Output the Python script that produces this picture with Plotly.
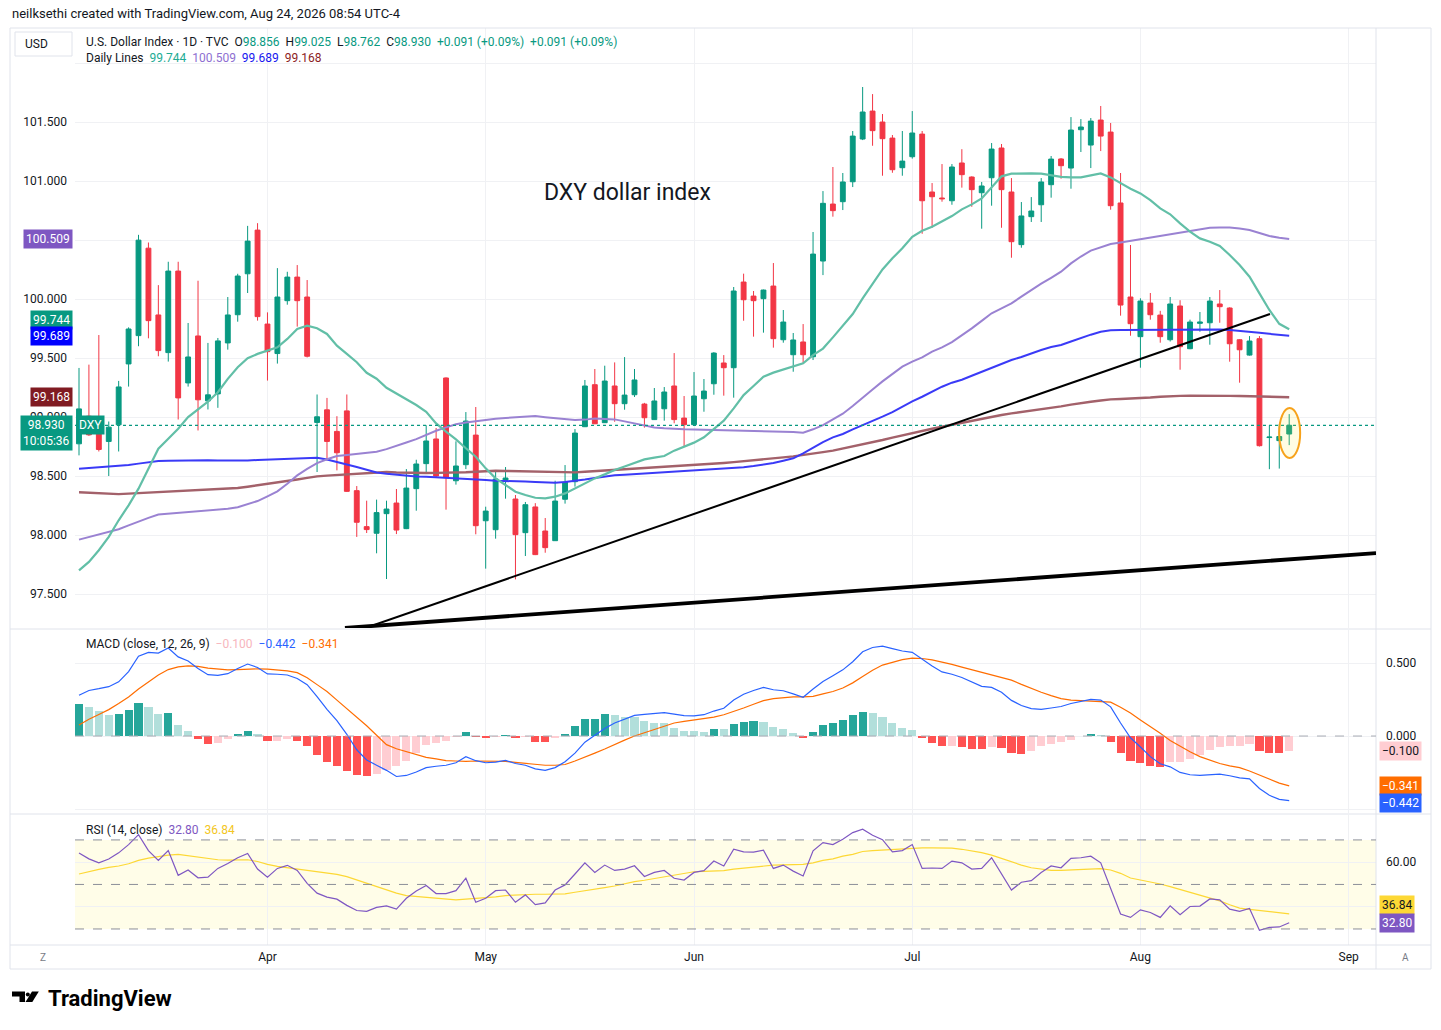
"""DXY daily chart in the TradingView look: candles + daily moving averages,
MACD and RSI panes underneath.
"""
import pandas as pd
import plotly.graph_objects as go

_INK = "#131722"
_MUTED = "#787b86"
_GRID = "#f0f1f4"
_BORDER = "#e0e3eb"
_UP = "#089981"
_DOWN = "#f23645"
_MA20 = "#62bfa7"
_MA50 = "#9a82d2"
_MA100 = "#3a3af7"
_MA200 = "#a3616a"
_MACD = "#2962ff"
_SIGNAL = "#ff6d00"
_RSI = "#7e57c2"
_RSI_MA = "#fdd835"
_FONT = "Roboto, Arial, sans-serif"

W, H = 1441, 1030

# ---- data ----------------------------------------------------------------
FIRST_DAY = "2026-03-05"
LAST_DAY = "2026-08-24"

OPEN = [
    98.773, 99.007, 98.914, 98.793, 98.934, 99.450, 99.690, 100.431, 99.865, 99.546,
    100.237, 99.289, 99.687, 99.137, 99.196, 99.628, 99.867, 100.214, 100.584, 99.788,
    99.538, 99.986, 100.186, 100.017, 98.954, 99.061, 98.878, 99.052, 98.376, 98.071,
    98.015, 98.181, 98.271, 98.054, 98.393, 98.605, 98.814, 99.331, 98.460, 98.596,
    98.847, 98.121, 98.045, 98.460, 98.305, 98.020, 98.238, 98.034, 97.952, 98.303,
    98.452, 98.918, 99.274, 98.952, 99.263, 99.113, 99.189, 99.110, 98.978, 99.070,
    99.263, 98.991, 98.935, 99.155, 99.282, 99.458, 99.418, 100.144, 100.025, 100.003,
    100.110, 99.655, 99.528, 99.636, 99.511, 100.322, 100.805, 100.825, 100.994, 101.356,
    101.593, 101.500, 101.364, 101.113, 101.206, 101.398, 100.907, 100.856, 100.833, 101.153,
    101.034, 100.901, 101.028, 101.280, 100.907, 100.461, 100.698, 100.799, 100.969, 101.187,
    101.110, 101.435, 101.305, 101.517, 101.415, 100.814, 100.017, 99.681, 99.966, 99.864,
    99.655, 99.941, 99.579, 99.794, 99.799, 99.958, 99.924, 99.655, 99.525, 99.664,
    98.826, 98.800, 98.856,
]
HIGH = [
    99.416, 99.444, 99.695, 98.962, 99.306, 99.760, 100.544, 100.479, 100.118, 100.316,
    100.316, 99.797, 100.155, 99.628, 99.670, 100.017, 100.214, 100.620, 100.643, 99.887,
    100.262, 100.231, 100.288, 100.161, 99.191, 99.162, 99.007, 99.191, 98.415, 98.291,
    98.300, 98.291, 98.390, 98.559, 98.638, 98.930, 98.907, 99.336, 98.794, 99.042,
    99.085, 98.240, 98.534, 98.576, 98.339, 98.280, 98.270, 98.144, 98.460, 98.593,
    98.898, 99.314, 99.407, 99.435, 99.463, 99.508, 99.407, 99.120, 99.246, 99.254,
    99.542, 99.178, 99.381, 99.322, 99.550, 99.525, 100.102, 100.215, 100.068, 100.080,
    100.305, 99.907, 99.712, 99.788, 100.568, 100.915, 101.119, 101.068, 101.424, 101.797,
    101.737, 101.568, 101.390, 101.424, 101.593, 101.424, 100.983, 101.144, 101.144, 101.270,
    101.040, 100.992, 101.322, 101.314, 101.025, 100.822, 100.864, 101.025, 101.212, 101.195,
    101.542, 101.525, 101.534, 101.636, 101.492, 101.068, 100.458, 100.006, 100.051, 99.900,
    100.017, 99.990, 99.825, 99.890, 100.017, 100.076, 99.930, 99.660, 99.686, 99.686,
    98.930, 98.940, 99.025,
]
LOW = [
    98.675, 98.840, 98.708, 98.500, 98.708, 99.258, 99.600, 99.667, 99.515, 99.470,
    98.979, 99.258, 98.886, 99.064, 99.078, 99.571, 99.808, 100.051, 99.817, 99.309,
    99.453, 99.952, 99.766, 99.505, 98.534, 98.632, 98.548, 98.365, 97.984, 98.017,
    97.845, 97.627, 98.008, 98.050, 98.206, 98.523, 98.486, 98.215, 98.427, 98.559,
    98.006, 97.715, 97.969, 98.308, 97.624, 97.822, 97.830, 97.850, 97.950, 98.266,
    98.410, 98.915, 98.940, 98.950, 98.960, 99.062, 99.170, 98.910, 98.975, 98.969,
    98.947, 98.749, 98.933, 99.045, 99.189, 99.181, 99.164, 99.816, 99.681, 99.715,
    99.588, 99.630, 99.384, 99.455, 99.483, 100.203, 100.698, 100.754, 100.949, 101.347,
    101.299, 101.045, 101.070, 101.045, 101.190, 100.553, 100.604, 100.825, 100.799, 100.944,
    100.782, 100.596, 100.791, 100.604, 100.350, 100.435, 100.653, 100.653, 100.859, 101.020,
    100.935, 101.246, 101.110, 101.254, 100.757, 99.859, 99.689, 99.418, 99.825, 99.630,
    99.640, 99.401, 99.575, 99.723, 99.613, 99.799, 99.469, 99.291, 99.520, 98.750,
    98.558, 98.563, 98.762,
]
CLOSE = [
    99.069, 98.849, 98.725, 98.914, 99.255, 99.746, 100.499, 99.817, 99.563, 100.237,
    99.162, 99.509, 99.146, 99.188, 99.645, 99.865, 100.195, 100.491, 99.851, 99.554,
    100.017, 100.186, 99.986, 99.515, 99.002, 98.793, 98.697, 98.370, 98.108, 98.046,
    98.190, 98.220, 98.042, 98.398, 98.602, 98.797, 98.500, 98.486, 98.585, 98.966,
    98.079, 98.203, 98.475, 98.483, 98.003, 98.257, 97.834, 97.893, 98.288, 98.449,
    98.864, 99.263, 98.943, 99.305, 99.113, 99.186, 99.314, 98.994, 99.136, 99.212,
    98.978, 98.935, 99.178, 99.220, 99.542, 99.418, 100.068, 99.994, 99.986, 100.076,
    99.664, 99.805, 99.653, 99.528, 100.381, 100.811, 100.749, 100.992, 101.381, 101.585,
    101.427, 101.359, 101.096, 101.169, 101.407, 100.833, 100.867, 100.850, 101.119, 101.054,
    100.927, 100.958, 101.271, 100.927, 100.486, 100.704, 100.746, 100.992, 101.186, 101.130,
    101.432, 101.458, 101.508, 101.381, 100.791, 99.949, 99.791, 99.983, 99.867, 99.681,
    99.958, 99.596, 99.805, 99.805, 99.983, 99.935, 99.621, 99.570, 99.644, 98.757,
    98.830, 98.835, 98.930,
]

# "Daily Lines" moving averages
MA20 = [
    97.700, 97.772, 97.871, 97.984, 98.125, 98.252, 98.393, 98.562, 98.731, 98.816,
    98.900, 98.999, 99.069, 99.131, 99.210, 99.323, 99.422, 99.498, 99.535, 99.563,
    99.591, 99.662, 99.746, 99.774, 99.752, 99.704, 99.605, 99.535, 99.464, 99.375,
    99.325, 99.248, 99.200, 99.150, 99.102, 99.045, 98.946, 98.876, 98.811, 98.735,
    98.664, 98.565, 98.480, 98.424, 98.367, 98.339, 98.316, 98.311, 98.325, 98.353,
    98.396, 98.438, 98.480, 98.514, 98.551, 98.580, 98.610, 98.641, 98.656, 98.670,
    98.715, 98.749, 98.783, 98.828, 98.899, 98.969, 99.073, 99.186, 99.263, 99.342,
    99.376, 99.404, 99.432, 99.455, 99.525, 99.580, 99.675, 99.771, 99.873, 100.006,
    100.133, 100.251, 100.345, 100.430, 100.528, 100.579, 100.613, 100.655, 100.703, 100.760,
    100.802, 100.853, 100.946, 101.040, 101.062, 101.065, 101.065, 101.062, 101.051, 101.035,
    101.031, 101.031, 101.048, 101.065, 101.031, 100.980, 100.935, 100.895, 100.839, 100.768,
    100.718, 100.641, 100.571, 100.514, 100.486, 100.449, 100.373, 100.288, 100.189, 100.048,
    99.907, 99.790, 99.744,
]
MA50 = [
    97.961, 97.982, 98.003, 98.026, 98.049, 98.082, 98.116, 98.145, 98.173, 98.180,
    98.187, 98.193, 98.198, 98.204, 98.209, 98.222, 98.235, 98.260, 98.288, 98.328,
    98.370, 98.435, 98.505, 98.560, 98.610, 98.642, 98.669, 98.678, 98.686, 98.697,
    98.706, 98.728, 98.754, 98.784, 98.813, 98.850, 98.884, 98.912, 98.938, 98.953,
    98.966, 98.977, 98.986, 98.992, 98.997, 99.003, 99.008, 98.999, 98.989, 98.982,
    98.975, 98.978, 98.988, 98.984, 98.980, 98.963, 98.946, 98.929, 98.912, 98.905,
    98.898, 98.897, 98.895, 98.893, 98.890, 98.886, 98.881, 98.881, 98.881, 98.880,
    98.878, 98.875, 98.873, 98.867, 98.896, 98.932, 98.980, 99.028, 99.093, 99.167,
    99.234, 99.302, 99.362, 99.427, 99.469, 99.506, 99.555, 99.590, 99.635, 99.690,
    99.751, 99.815, 99.879, 99.920, 99.963, 100.020, 100.076, 100.130, 100.180, 100.232,
    100.302, 100.360, 100.410, 100.440, 100.466, 100.480, 100.494, 100.510, 100.525, 100.538,
    100.551, 100.565, 100.579, 100.592, 100.605, 100.607, 100.607, 100.597, 100.585, 100.560,
    100.534, 100.520, 100.509,
]
MA100 = [
    98.562, 98.567, 98.572, 98.577, 98.582, 98.593, 98.605, 98.616, 98.627, 98.629,
    98.631, 98.633, 98.635, 98.633, 98.631, 98.629, 98.627, 98.631, 98.636, 98.640,
    98.644, 98.647, 98.650, 98.653, 98.655, 98.640, 98.621, 98.598, 98.576, 98.555,
    98.530, 98.520, 98.511, 98.504, 98.497, 98.493, 98.489, 98.486, 98.483, 98.478,
    98.472, 98.466, 98.460, 98.459, 98.458, 98.453, 98.449, 98.446, 98.443, 98.450,
    98.458, 98.470, 98.483, 98.495, 98.506, 98.510, 98.515, 98.520, 98.525, 98.530,
    98.535, 98.540, 98.545, 98.550, 98.555, 98.560, 98.566, 98.575, 98.585, 98.596,
    98.610, 98.630, 98.650, 98.692, 98.743, 98.788, 98.828, 98.856, 98.895, 98.929,
    98.966, 99.003, 99.042, 99.088, 99.133, 99.172, 99.215, 99.257, 99.291, 99.316,
    99.350, 99.384, 99.418, 99.455, 99.483, 99.509, 99.540, 99.568, 99.593, 99.610,
    99.640, 99.670, 99.698, 99.723, 99.735, 99.737, 99.738, 99.738, 99.739, 99.740,
    99.741, 99.742, 99.743, 99.744, 99.743, 99.741, 99.737, 99.731, 99.722, 99.714,
    99.705, 99.696, 99.689,
]
MA200 = [
    98.362, 98.358, 98.354, 98.350, 98.347, 98.351, 98.355, 98.358, 98.362, 98.365,
    98.369, 98.372, 98.376, 98.381, 98.387, 98.392, 98.398, 98.409, 98.420, 98.431,
    98.443, 98.456, 98.470, 98.484, 98.497, 98.503, 98.508, 98.514, 98.519, 98.524,
    98.529, 98.534, 98.530, 98.527, 98.525, 98.526, 98.527, 98.527, 98.528, 98.532,
    98.536, 98.541, 98.545, 98.543, 98.541, 98.539, 98.537, 98.536, 98.534, 98.533,
    98.531, 98.536, 98.541, 98.546, 98.551, 98.555, 98.560, 98.565, 98.570, 98.575,
    98.580, 98.585, 98.590, 98.597, 98.604, 98.611, 98.618, 98.625, 98.633, 98.641,
    98.650, 98.658, 98.667, 98.681, 98.692, 98.703, 98.715, 98.732, 98.749, 98.771,
    98.788, 98.805, 98.825, 98.845, 98.864, 98.881, 98.901, 98.918, 98.935, 98.955,
    98.972, 98.989, 99.003, 99.017, 99.031, 99.042, 99.054, 99.065, 99.075, 99.090,
    99.105, 99.120, 99.130, 99.140, 99.150, 99.153, 99.156, 99.158, 99.165, 99.172,
    99.177, 99.179, 99.180, 99.181, 99.181, 99.180, 99.179, 99.178, 99.176, 99.174,
    99.172, 99.170, 99.168,
]

# MACD (close, 12, 26, 9)
MACD_LINE = [
    0.279, 0.312, 0.324, 0.338, 0.371, 0.441, 0.547, 0.573, 0.568, 0.603,
    0.542, 0.514, 0.462, 0.420, 0.415, 0.427, 0.462, 0.493, 0.469, 0.425,
    0.423, 0.418, 0.394, 0.352, 0.270, 0.183, 0.106, 0.012, -0.094, -0.164,
    -0.200, -0.235, -0.277, -0.270, -0.246, -0.216, -0.207, -0.200, -0.183, -0.141,
    -0.169, -0.183, -0.178, -0.167, -0.188, -0.200, -0.225, -0.235, -0.216, -0.176,
    -0.117, -0.042, 0.005, 0.052, 0.089, 0.117, 0.141, 0.148, 0.153, 0.160,
    0.150, 0.140, 0.138, 0.146, 0.171, 0.190, 0.246, 0.286, 0.312, 0.333,
    0.317, 0.310, 0.289, 0.265, 0.322, 0.373, 0.413, 0.453, 0.509, 0.577,
    0.606, 0.615, 0.599, 0.582, 0.573, 0.526, 0.479, 0.439, 0.423, 0.401,
    0.373, 0.340, 0.333, 0.300, 0.244, 0.209, 0.188, 0.183, 0.192, 0.202,
    0.223, 0.239, 0.251, 0.246, 0.200, 0.089, -0.012, -0.075, -0.141, -0.190,
    -0.211, -0.249, -0.265, -0.270, -0.263, -0.261, -0.272, -0.286, -0.293, -0.359,
    -0.406, -0.434, -0.442,
]
MACD_SIGNAL = [
    0.075, 0.115, 0.148, 0.181, 0.223, 0.268, 0.322, 0.373, 0.418, 0.455,
    0.474, 0.481, 0.477, 0.465, 0.460, 0.453, 0.455, 0.460, 0.460, 0.458,
    0.453, 0.446, 0.434, 0.399, 0.352, 0.305, 0.246, 0.188, 0.129, 0.070,
    0.005, -0.059, -0.087, -0.108, -0.129, -0.146, -0.157, -0.169, -0.171, -0.174,
    -0.171, -0.171, -0.171, -0.174, -0.181, -0.188, -0.195, -0.200, -0.200, -0.195,
    -0.171, -0.146, -0.117, -0.089, -0.056, -0.028, 0.000, 0.023, 0.047, 0.070,
    0.089, 0.100, 0.110, 0.117, 0.129, 0.146, 0.167, 0.192, 0.218, 0.242,
    0.256, 0.263, 0.268, 0.268, 0.272, 0.289, 0.305, 0.329, 0.364, 0.408,
    0.451, 0.486, 0.507, 0.523, 0.533, 0.531, 0.521, 0.507, 0.491, 0.472,
    0.455, 0.439, 0.420, 0.404, 0.383, 0.354, 0.326, 0.300, 0.277, 0.256,
    0.246, 0.242, 0.239, 0.239, 0.232, 0.197, 0.157, 0.110, 0.066, 0.019,
    -0.031, -0.070, -0.108, -0.141, -0.167, -0.188, -0.204, -0.216, -0.239, -0.268,
    -0.298, -0.322, -0.341,
]
MACD_HIST = [
    0.218, 0.200, 0.169, 0.145, 0.150, 0.176, 0.225, 0.200, 0.152, 0.157,
    0.077, 0.035, -0.019, -0.054, -0.047, -0.023, 0.012, 0.035, 0.016, -0.035,
    -0.031, -0.019, -0.033, -0.070, -0.129, -0.176, -0.204, -0.239, -0.265, -0.272,
    -0.258, -0.235, -0.207, -0.169, -0.117, -0.063, -0.047, -0.035, -0.009, 0.028,
    -0.009, -0.016, -0.005, 0.009, -0.016, -0.009, -0.040, -0.042, -0.016, 0.014,
    0.066, 0.115, 0.120, 0.148, 0.141, 0.131, 0.128, 0.106, 0.092, 0.088,
    0.056, 0.035, 0.034, 0.028, 0.050, 0.049, 0.085, 0.099, 0.100, 0.098,
    0.063, 0.049, 0.021, -0.012, 0.028, 0.077, 0.092, 0.113, 0.141, 0.162,
    0.155, 0.127, 0.092, 0.056, 0.042, -0.014, -0.047, -0.068, -0.066, -0.075,
    -0.087, -0.090, -0.075, -0.082, -0.117, -0.124, -0.103, -0.070, -0.055, -0.040,
    -0.025, -0.003, 0.014, 0.007, -0.042, -0.117, -0.174, -0.188, -0.202, -0.209,
    -0.181, -0.180, -0.160, -0.131, -0.096, -0.075, -0.068, -0.066, -0.054, -0.103,
    -0.117, -0.118, -0.100,
]

# RSI (14, close) and its moving average
RSI = [
    64.1, 61.5, 59.7, 61.4, 64.2, 67.9, 72.4, 65.2, 60.8, 65.2,
    54.1, 56.5, 53.0, 53.3, 57.2, 59.4, 62.0, 63.9, 56.9, 53.3,
    57.2, 58.6, 56.3, 50.5, 46.1, 44.3, 43.4, 40.6, 38.3, 37.9,
    39.7, 40.4, 38.9, 43.8, 47.1, 49.5, 45.9, 45.9, 47.2, 52.8,
    42.0, 43.8, 47.2, 47.5, 42.0, 45.3, 40.9, 41.7, 47.5, 49.8,
    54.7, 59.7, 55.4, 58.7, 56.3, 56.9, 58.4, 53.6, 55.4, 56.3,
    52.8, 52.0, 55.4, 56.2, 60.5, 58.3, 65.8, 64.6, 64.5, 65.4,
    57.2, 58.7, 56.0, 53.8, 65.1, 68.8, 67.9, 70.3, 73.3, 74.8,
    72.1, 70.1, 64.6, 65.2, 67.9, 57.2, 57.4, 57.2, 60.5, 59.7,
    56.9, 57.2, 62.0, 55.0, 47.5, 51.0, 51.7, 55.4, 58.3, 57.5,
    61.7, 62.0, 62.7, 59.7, 48.3, 36.7, 35.2, 38.6, 37.4, 35.2,
    40.4, 36.4, 40.1, 40.3, 43.5, 43.1, 38.9, 37.9, 39.2, 29.4,
    30.7, 30.9, 32.8,
]
RSI_MA = [
    54.7, 55.9, 56.8, 57.7, 58.3, 59.3, 60.8, 61.8, 62.6, 63.2,
    63.5, 62.9, 62.3, 61.5, 61.1, 60.9, 61.1, 61.1, 60.3, 59.0,
    58.1, 57.5, 57.1, 56.5, 56.0, 55.3, 54.5, 53.5, 52.0, 50.5,
    49.0, 47.5, 46.1, 45.0, 44.6, 44.1, 43.7, 43.4, 43.1, 43.4,
    43.7, 43.8, 44.4, 45.0, 45.3, 45.6, 45.6, 45.6, 45.6, 45.8,
    46.5, 47.1, 47.8, 48.6, 49.3, 50.4, 51.3, 51.9, 52.6, 53.3,
    54.2, 54.8, 55.7, 55.9, 56.0, 56.2, 56.9, 57.4, 57.8, 58.4,
    58.7, 58.8, 58.8, 59.0, 59.7, 60.8, 61.5, 62.7, 63.5, 64.8,
    65.2, 65.5, 65.7, 66.0, 66.3, 66.4, 66.4, 66.4, 66.3, 65.8,
    65.2, 64.3, 63.2, 61.7, 60.0, 58.7, 57.5, 56.8, 56.3, 56.3,
    56.5, 56.8, 57.1, 57.1, 56.5, 55.0, 52.9, 52.1, 51.3, 50.2,
    49.0, 47.7, 46.5, 45.2, 43.8, 42.6, 40.9, 39.4, 38.8, 38.3,
    38.0, 37.6, 36.8,
]

MONTH_TICKS = ["2026-04-01", "2026-05-01", "2026-06-01", "2026-07-01", "2026-08-03", "2026-09-01"]
MONTH_LABELS = ["Apr", "May", "Jun", "Jul", "Aug", "Sep"]
PRICE_TICKS = [97.5, 98.0, 98.5, 99.0, 99.5, 100.0, 100.5, 101.0, 101.5, 102.0]

# hand-drawn trend lines: (start date, start price, end date, end price)
TREND_THIN = ("2026-04-15 09:00", 97.212, "2026-08-20 13:30", 99.873)
TREND_THICK = ("2026-04-13 07:30", 97.212, "2026-09-04 06:00", 97.847)
HIGHLIGHT = ("2026-08-21 11:40", 98.653, "2026-08-25 14:30", 99.076)

# ---- helpers ----------------------------------------------------------------
# daily bars sit at noon so boxes never straddle the weekend break
dates = pd.bdate_range(FIRST_DAY, LAST_DAY) + pd.Timedelta(hours=12)
noon = lambda d: f"{d} 12:00"
X_RANGE = ["2026-03-05 02:20", "2026-09-04 06:00"]
DAY_MS = 86_400_000


def px(x):
    return x / W


def py(y):
    return 1 - y / H


def hist_colours(values):
    out = []
    for i, v in enumerate(values):
        rising = i == 0 or v > values[i - 1]
        if v >= 0:
            out.append("#26a69a" if rising else "#b2dfdb")
        else:
            out.append("#ffcdd2" if rising else "#ff5252")
    return out


X_DOMAIN = [px(75), px(1376)]
PRICE_DOMAIN = [py(628), py(28)]
MACD_DOMAIN = [py(813), py(630)]
RSI_DOMAIN = [py(945), py(815)]

fig = go.Figure()

# price pane
fig.add_trace(
    go.Candlestick(
        x=dates, open=OPEN, high=HIGH, low=LOW, close=CLOSE,
        increasing={"line": {"color": _UP, "width": 1}, "fillcolor": _UP},
        decreasing={"line": {"color": _DOWN, "width": 1}, "fillcolor": _DOWN},
        whiskerwidth=0, xaxis="x", yaxis="y", hoverinfo="skip",
    )
)
for values, colour, width in ((MA200, _MA200, 2.4), (MA100, _MA100, 2),
                              (MA50, _MA50, 2), (MA20, _MA20, 2.2)):
    fig.add_trace(go.Scatter(x=dates, y=values, mode="lines", xaxis="x", yaxis="y",
                             line={"color": colour, "width": width}, hoverinfo="skip"))

# MACD pane
fig.add_trace(go.Bar(x=dates, y=MACD_HIST, width=0.82 * DAY_MS, xaxis="x2", yaxis="y2",
                     marker={"color": hist_colours(MACD_HIST), "line": {"width": 0}},
                     hoverinfo="skip"))
fig.add_trace(go.Scatter(x=dates, y=MACD_SIGNAL, mode="lines", xaxis="x2", yaxis="y2",
                         line={"color": _SIGNAL, "width": 1.2}, hoverinfo="skip"))
fig.add_trace(go.Scatter(x=dates, y=MACD_LINE, mode="lines", xaxis="x2", yaxis="y2",
                         line={"color": _MACD, "width": 1.2}, hoverinfo="skip"))

# RSI pane
fig.add_trace(go.Scatter(x=dates, y=RSI_MA, mode="lines", xaxis="x3", yaxis="y3",
                         line={"color": _RSI_MA, "width": 1.2}, hoverinfo="skip"))
fig.add_trace(go.Scatter(x=dates, y=RSI, mode="lines", xaxis="x3", yaxis="y3",
                         line={"color": _RSI, "width": 1.2}, hoverinfo="skip"))

shapes = [
    # chart frame, pane separators, axis borders
    dict(type="rect", xref="paper", yref="paper", x0=px(10), x1=px(1431), y0=py(969), y1=py(28),
         line={"color": _BORDER, "width": 1}),
    dict(type="line", xref="paper", yref="paper", x0=px(10), x1=px(1431), y0=py(629), y1=py(629),
         line={"color": _BORDER, "width": 1}),
    dict(type="line", xref="paper", yref="paper", x0=px(10), x1=px(1431), y0=py(814), y1=py(814),
         line={"color": _BORDER, "width": 1}),
    dict(type="line", xref="paper", yref="paper", x0=px(10), x1=px(1431), y0=py(945), y1=py(945),
         line={"color": _BORDER, "width": 1}),
    dict(type="line", xref="paper", yref="paper", x0=px(1376), x1=px(1376), y0=py(969), y1=py(28),
         line={"color": _BORDER, "width": 1}),
    # USD box
    dict(type="rect", xref="paper", yref="paper", x0=px(15), x1=px(72), y0=py(56), y1=py(32),
         line={"color": _BORDER, "width": 1}, fillcolor="white"),
    # RSI band and levels
    dict(type="rect", xref="x3 domain", yref="y3", x0=0, x1=1, y0=30, y1=70,
         fillcolor="#fffde8", line={"width": 0}, layer="below"),
    # current price line
    dict(type="line", xref="x domain", yref="y", x0=0, x1=1, y0=CLOSE[-1], y1=CLOSE[-1],
         line={"color": _UP, "width": 1.3, "dash": "dot"}),
    # MACD zero line
    dict(type="line", xref="x2 domain", yref="y2", x0=0, x1=1, y0=0, y1=0,
         line={"color": "#a9acb4", "width": 1, "dash": "dash"}),
    # trend lines
    dict(type="line", xref="x", yref="y", x0=TREND_THIN[0], y0=TREND_THIN[1],
         x1=TREND_THIN[2], y1=TREND_THIN[3], line={"color": "black", "width": 2}),
    dict(type="line", xref="x", yref="y", x0=TREND_THICK[0], y0=TREND_THICK[1],
         x1=TREND_THICK[2], y1=TREND_THICK[3], line={"color": "black", "width": 3.8}),
    # circled last candles
    dict(type="circle", xref="x", yref="y", x0=HIGHLIGHT[0], y0=HIGHLIGHT[1],
         x1=HIGHLIGHT[2], y1=HIGHLIGHT[3], fillcolor="rgba(255,235,59,0.15)",
         line={"color": "#f7a21b", "width": 2}),
    # TradingView mark
    dict(type="path", xref="paper", yref="paper",
         path=f"M{px(12)},{py(991.5)} L{px(25)},{py(991.5)} L{px(25)},{py(1002)} "
              f"L{px(19.5)},{py(1002)} L{px(19.5)},{py(996.5)} L{px(12)},{py(996.5)} Z",
         fillcolor="black", line={"width": 0}),
    dict(type="circle", xref="paper", yref="paper", x0=px(25.8), x1=px(29.8), y0=py(996.4),
         y1=py(992.4), fillcolor="black", line={"width": 0}),
    dict(type="path", xref="paper", yref="paper",
         path=f"M{px(32)},{py(991.5)} L{px(38.8)},{py(991.5)} L{px(32.3)},{py(1002)} "
              f"L{px(25.5)},{py(1002)} Z",
         fillcolor="black", line={"width": 0}),
]
for level in (70, 50, 30):
    shapes.append(dict(type="line", xref="x3 domain", yref="y3", x0=0, x1=1, y0=level, y1=level,
                       line={"color": "#8c8f98", "width": 1, "dash": "dash"}))


def c(text, colour):
    return f"<span style='color:{colour}'>{text}</span>"


SP = "\u00a0 "
annotations = [
    dict(x=px(10), y=py(14), text="neilksethi created with TradingView.com, Aug 24, 2026 08:54 UTC-4",
         font={"size": 13, "color": _INK}),
    dict(x=px(23), y=py(44), text="USD", font={"size": 12, "color": _INK}),
    dict(x=px(84), y=py(42),
         text="U.S. Dollar Index · 1D · TVC" + SP
              + "O" + c(f"{OPEN[-1]:.3f}", _UP) + SP + "H" + c(f"{HIGH[-1]:.3f}", _UP) + SP
              + "L" + c(f"{LOW[-1]:.3f}", _UP) + SP + "C" + c(f"{CLOSE[-1]:.3f}", _UP) + SP
              + c("+0.091 (+0.09%)", _UP) + SP + c("+0.091 (+0.09%)", _UP),
         font={"size": 12, "color": _INK}),
    dict(x=px(84), y=py(58),
         text="Daily Lines" + SP + c(f"{MA20[-1]:.3f}", "#22ab94") + SP + c(f"{MA50[-1]:.3f}", "#8e6fd1")
              + SP + c(f"{MA100[-1]:.3f}", "#1717f0") + SP + c(f"{MA200[-1]:.3f}", "#8c1d24"),
         font={"size": 12, "color": _INK}),
    dict(x=px(84), y=py(644),
         text="MACD (close, 12, 26, 9)" + SP + c("\u22120.100", "#f7b6bd") + SP
              + c("\u22120.442", _MACD) + SP + c("\u22120.341", _SIGNAL),
         font={"size": 12, "color": _INK}),
    dict(x=px(84), y=py(830),
         text="RSI (14, close)" + SP + c(f"{RSI[-1]:.2f}", _RSI) + SP + c("36.84", "#f3c623"),
         font={"size": 12, "color": _INK}),
    dict(x=px(627), y=py(192), xanchor="center", text="DXY dollar index",
         font={"size": 23, "color": _INK}),
    dict(x=px(43), y=py(957), xanchor="center", text="Z", font={"size": 10, "color": _MUTED}),
    dict(x=px(1405), y=py(957), xanchor="center", text="A", font={"size": 10, "color": _MUTED}),
    dict(x=px(46), y=py(998), text="<b>TradingView</b>", font={"size": 22, "color": "black"}),
]
for a in annotations:
    a.setdefault("xref", "paper")
    a.setdefault("yref", "paper")
    a.setdefault("xanchor", "left")
    a.setdefault("yanchor", "middle")
    a["showarrow"] = False

# value tags on the scales
tags = [
    ("y", px(73), "right", MA50[-1], 0, "100.509", "#7e57c2", "white"),
    ("y", px(73), "right", MA20[-1], 9, "99.744", "#089981", "white"),
    ("y", px(73), "right", MA100[-1], 0, "99.689", "#0000ff", "white"),
    ("y", px(73), "right", MA200[-1], 0, "99.168", "#801b22", "white"),
    ("y", px(73), "right", CLOSE[-1], -8, "98.930<br>10:05:36", "#089981", "white"),
    ("y", px(76), "left", CLOSE[-1], 0, "DXY", "#089981", "white"),
    ("y2", px(1379), "left", MACD_HIST[-1], 0, "\u22120.100", "#ffcdd2", _INK),
    ("y2", px(1379), "left", MACD_SIGNAL[-1], 0, "\u22120.341", _SIGNAL, "white"),
    ("y2", px(1379), "left", MACD_LINE[-1], -2, "\u22120.442", _MACD, "white"),
    ("y3", px(1379), "left", RSI_MA[-1], 9, "36.84", _RSI_MA, _INK),
    ("y3", px(1379), "left", RSI[-1], 0, f"{RSI[-1]:.2f}", _RSI, "white"),
]
for yref, x, anchor, yval, shift, text, bg, fg in tags:
    annotations.append(dict(
        xref="paper", yref=yref, x=x, y=yval, xanchor=anchor, yanchor="middle", yshift=shift,
        text=text, showarrow=False, bgcolor=bg, borderpad=2, align="center",
        font={"size": 12, "color": fg},
    ))

x_common = {
    "type": "date", "range": X_RANGE, "domain": X_DOMAIN,
    "rangebreaks": [{"bounds": ["sat", "mon"]}],
    "tickvals": [noon(d) for d in MONTH_TICKS], "ticktext": MONTH_LABELS,
    "showgrid": True, "gridcolor": _GRID, "zeroline": False, "showline": False, "ticks": "",
}

fig.update_layout(
    width=W, height=H, autosize=False,
    margin={"l": 0, "r": 0, "t": 0, "b": 0},
    paper_bgcolor="white", plot_bgcolor="white",
    font={"family": _FONT, "size": 12, "color": _INK},
    showlegend=False, hovermode=False,
    boxgap=0.3, bargap=0,
    xaxis={**x_common, "anchor": "y", "showticklabels": False, "rangeslider": {"visible": False}},
    xaxis2={**x_common, "anchor": "y2", "matches": "x", "showticklabels": False},
    xaxis3={**x_common, "anchor": "y3", "matches": "x", "showticklabels": True,
            "ticklabelstandoff": 3, "tickfont": {"size": 12, "color": _INK}},
    yaxis={
        "domain": PRICE_DOMAIN, "anchor": "x", "side": "left", "range": [97.212, 102.297],
        "tickvals": PRICE_TICKS,
        "ticktext": [f"{v:.3f}" if v < 102 else "" for v in PRICE_TICKS],
        "showgrid": True, "gridcolor": _GRID, "zeroline": False, "ticks": "",
        "ticklabelstandoff": 7, "tickfont": {"size": 12, "color": _INK},
    },
    yaxis2={
        "domain": MACD_DOMAIN, "anchor": "x2", "side": "right", "range": [-0.527, 0.726],
        "tickvals": [-0.5, 0.0, 0.5], "ticktext": ["", "0.000", "0.500"],
        "showgrid": True, "gridcolor": _GRID, "zeroline": False, "ticks": "",
        "ticklabelstandoff": 9, "tickfont": {"size": 12, "color": _INK},
    },
    yaxis3={
        "domain": RSI_DOMAIN, "anchor": "x3", "side": "right", "range": [22.8, 81.2],
        "tickvals": [40, 60], "ticktext": ["", "60.00"],
        "showgrid": True, "gridcolor": _GRID, "zeroline": False, "ticks": "",
        "ticklabelstandoff": 9, "tickfont": {"size": 12, "color": _INK},
    },
    shapes=shapes,
    annotations=annotations,
)

fig.write_html(
    "out.html",
    config={"displayModeBar": False, "staticPlot": True},
    post_script="document.body.style.margin='0';document.body.style.overflow='hidden';",
)
